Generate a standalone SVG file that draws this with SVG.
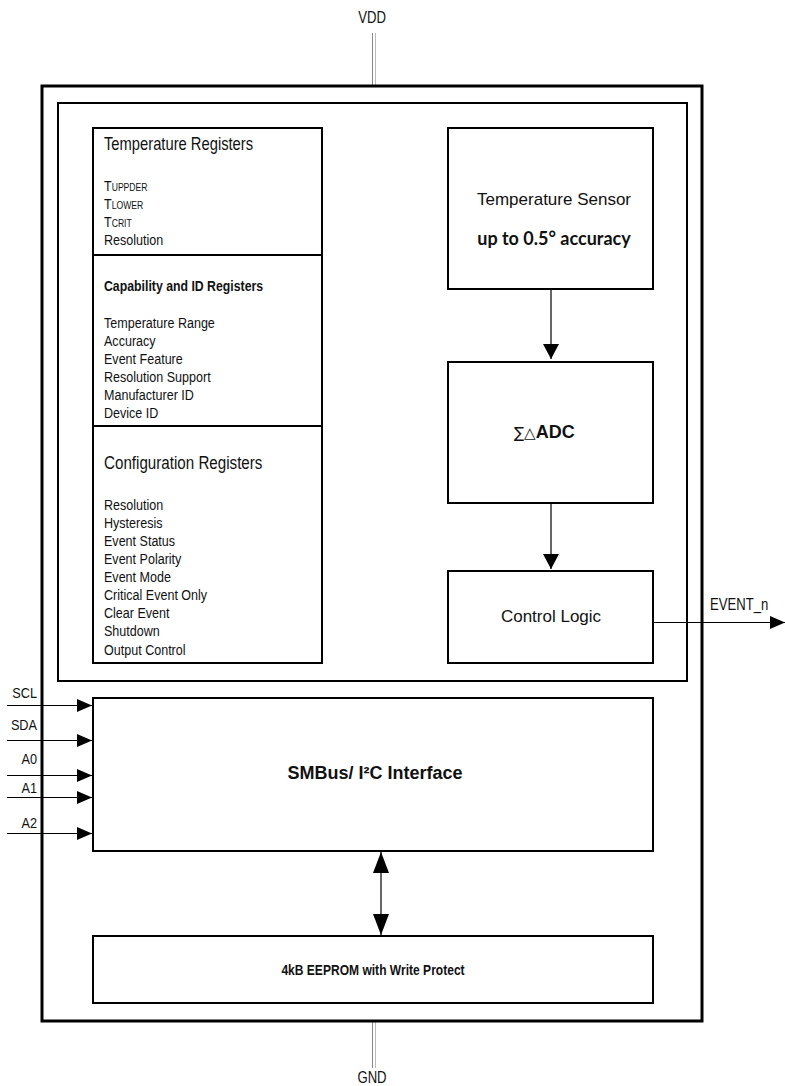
<svg xmlns="http://www.w3.org/2000/svg" width="785" height="1086" viewBox="0 0 785 1086">
<style>
.n{font-family:'Liberation Sans',Arial,sans-serif;fill:#111}
.s{font-family:'Liberation Sans',Arial,sans-serif;fill:#111}
.b{font-weight:bold}
.box{fill:#fff;stroke:#000;stroke-width:2}
.ln{stroke:#000;stroke-width:1.2;fill:none}
.sub{font-size:10.5px}
.item{font-size:15.3px}
</style>
<defs>
<marker id="ah" markerWidth="16" markerHeight="16" refX="15" refY="8" orient="auto" markerUnits="userSpaceOnUse">
<path d="M0,0 L15,8 L0,16 Z" fill="#000"/>
</marker>
<marker id="ai" markerWidth="15" markerHeight="13" refX="15" refY="6.5" orient="auto" markerUnits="userSpaceOnUse">
<path d="M0,0 L15,6.5 L0,13 Z" fill="#000"/>
</marker>
<marker id="ab" markerWidth="22" markerHeight="16" refX="21" refY="8" orient="auto-start-reverse" markerUnits="userSpaceOnUse">
<path d="M0,0 L21,8 L0,16 Z" fill="#000"/>
</marker>
</defs>

<g id="power">
<line x1="372.5" y1="33" x2="372.5" y2="86" stroke="#888" stroke-width="1"/>
<line x1="375.5" y1="33" x2="375.5" y2="86" stroke="#bbb" stroke-width="1"/>
<line x1="372.5" y1="1021" x2="372.5" y2="1068" stroke="#888" stroke-width="1"/>
<line x1="375.5" y1="1021" x2="375.5" y2="1068" stroke="#bbb" stroke-width="1"/>
<text class="n" transform="translate(372 23) scale(0.82 1)" font-size="16" text-anchor="middle">VDD</text>
<text class="n" transform="translate(372 1083) scale(0.82 1)" font-size="16" text-anchor="middle">GND</text>
</g>

<g id="chip">
<rect x="42" y="86" width="660" height="935" fill="none" stroke="#000" stroke-width="3"/>
</g>
<g id="core">
<rect x="58" y="103" width="629" height="578" fill="none" stroke="#000" stroke-width="2"/>
</g>

<g id="registers">
<rect class="box" x="93" y="128" width="229" height="535" stroke-width="1.8"/>
<line x1="93" y1="255" x2="322" y2="255" stroke="#000" stroke-width="2"/>
<line x1="93" y1="426" x2="322" y2="426" stroke="#000" stroke-width="2"/>
<g transform="translate(104 0) scale(0.82 1)">
<text class="n" x="0" y="150" font-size="18">Temperature Registers</text>
<text class="n item" x="0" y="191">T<tspan class="sub">UPPDER</tspan></text>
<text class="n item" x="0" y="209">T<tspan class="sub">LOWER</tspan></text>
<text class="n item" x="0" y="227">T<tspan class="sub">CRIT</tspan></text>
<text class="n item" x="0" y="245">Resolution</text>

<text class="n b" x="0" y="291" font-size="15">Capability and ID Registers</text>
<text class="n item" x="0" y="328">Temperature Range</text>
<text class="n item" x="0" y="346">Accuracy</text>
<text class="n item" x="0" y="364">Event Feature</text>
<text class="n item" x="0" y="382">Resolution Support</text>
<text class="n item" x="0" y="400">Manufacturer ID</text>
<text class="n item" x="0" y="418">Device ID</text>

<text class="n" x="0" y="469" font-size="18.5">Configuration Registers</text>
<text class="n item" x="0" y="510">Resolution</text>
<text class="n item" x="0" y="528">Hysteresis</text>
<text class="n item" x="0" y="546">Event Status</text>
<text class="n item" x="0" y="564">Event Polarity</text>
<text class="n item" x="0" y="582">Event Mode</text>
<text class="n item" x="0" y="600">Critical Event Only</text>
<text class="n item" x="0" y="618">Clear Event</text>
<text class="n item" x="0" y="636">Shutdown</text>
<text class="n item" x="0" y="655">Output Control</text>
</g>
</g>

<g id="sensor">
<rect class="box" x="448" y="128" width="205" height="161"/>
<text class="s" x="554" y="205" font-size="17" text-anchor="middle">Temperature Sensor</text>
<text x="554" y="245" font-size="18" text-anchor="middle" font-family="Lato,'Open Sans',sans-serif" font-weight="bold" fill="#111">up to 0.5° accuracy</text>
</g>

<g id="adc">
<rect class="box" x="448" y="362" width="205" height="141"/>
<text class="n" x="514" y="438" font-size="18"><tspan font-family="'DejaVu Sans',sans-serif" font-size="15" font-weight="normal">∑△</tspan><tspan font-weight="bold">ADC</tspan></text>
</g>

<g id="control">
<rect class="box" x="448" y="571" width="205" height="92"/>
<text class="s" x="551" y="622" font-size="17" text-anchor="middle">Control Logic</text>
</g>

<g id="smbus">
<rect class="box" x="93" y="698" width="560" height="153" stroke-width="1.6"/>
<text class="s b" x="375" y="779" font-size="18" text-anchor="middle">SMBus/ I²C Interface</text>
</g>

<g id="eeprom">
<rect class="box" x="93" y="936" width="560" height="67" stroke-width="1.6"/>
<text class="n b" transform="translate(373 975) scale(0.82 1)" font-size="14.7" text-anchor="middle">4kB EEPROM with Write Protect</text>
</g>

<g id="connectors">
<line class="ln" x1="551" y1="289" x2="551" y2="359" marker-end="url(#ah)"/>
<line class="ln" x1="551" y1="503" x2="551" y2="569" marker-end="url(#ah)"/>
<line class="ln" x1="653" y1="622.5" x2="785" y2="622.5" marker-end="url(#ai)"/>
<line class="ln" x1="381" y1="852" x2="381" y2="935" marker-start="url(#ab)" marker-end="url(#ab)"/>
<line class="ln" x1="7" y1="705.5" x2="92" y2="705.5" marker-end="url(#ai)"/>
<line class="ln" x1="7" y1="740.5" x2="92" y2="740.5" marker-end="url(#ai)"/>
<line class="ln" x1="7" y1="775.5" x2="92" y2="775.5" marker-end="url(#ai)"/>
<line class="ln" x1="7" y1="797.5" x2="92" y2="797.5" marker-end="url(#ai)"/>
<line class="ln" x1="7" y1="833.5" x2="92" y2="833.5" marker-end="url(#ai)"/>
</g>

<g id="labels">
<text class="n" transform="translate(37 698) scale(0.82 1)" font-size="15.5" text-anchor="end">SCL</text>
<text class="n" transform="translate(37 730) scale(0.82 1)" font-size="15.5" text-anchor="end">SDA</text>
<text class="n" transform="translate(37 764) scale(0.82 1)" font-size="15.5" text-anchor="end">A0</text>
<text class="n" transform="translate(37 793) scale(0.82 1)" font-size="15.5" text-anchor="end">A1</text>
<text class="n" transform="translate(37 828) scale(0.82 1)" font-size="15.5" text-anchor="end">A2</text>
<text class="n" transform="translate(710 610) scale(0.82 1)" font-size="16">EVENT_n</text>
</g>
</svg>
